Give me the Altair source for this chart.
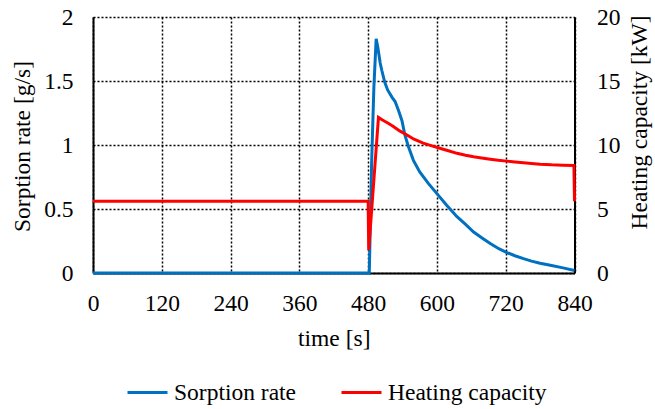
import altair as alt
import pandas as pd

# Sorption rate [g/s] over time [s]
time_sorption = [0, 482, 486, 490, 494, 497, 501, 504, 509, 514, 518, 522, 527, 533,
                 539, 544, 550, 559, 570, 585, 600, 617, 635, 650, 664, 680, 693,
                 708, 722, 736, 751, 765, 780, 800, 820, 840]
sorption_rate = [0.0, 0.0, 0.85, 1.45, 1.83, 1.76, 1.64, 1.58, 1.49, 1.43, 1.40, 1.37,
                 1.34, 1.27, 1.19, 1.08, 0.99, 0.88, 0.79, 0.70, 0.62, 0.53, 0.44,
                 0.38, 0.32, 0.27, 0.23, 0.19, 0.16, 0.135, 0.112, 0.093, 0.076,
                 0.058, 0.040, 0.020]

# Heating capacity [kW] over time [s]
time_heating = [0, 480, 481, 483, 498, 505, 515, 524, 535, 547, 560, 576, 590, 605,
                620, 635, 650, 664, 678, 693, 707, 722, 736, 751, 765, 780, 800,
                820, 839, 840]
heating_capacity = [5.6, 5.6, 1.8, 3.0, 12.15, 11.95, 11.7, 11.45, 11.1, 10.8, 10.45,
                    10.15, 9.95, 9.75, 9.55, 9.35, 9.2, 9.08, 8.98, 8.88, 8.8, 8.74,
                    8.68, 8.62, 8.56, 8.5, 8.45, 8.42, 8.4, 5.6]

series_names = ["Sorption rate", "Heating capacity"]
series_colors = ["#0070C0", "#FF0000"]
time_ticks = [0, 120, 240, 360, 480, 600, 720, 840]
rate_ticks = [0, 0.5, 1, 1.5, 2]
heat_ticks = [0, 5, 10, 15, 20]

FONT = "Liberation Serif"
FS = 23.5

sorption_df = pd.DataFrame({
    "time": time_sorption,
    "value": sorption_rate,
    "series": series_names[0],
    "idx": range(len(time_sorption)),
})
heating_df = pd.DataFrame({
    "time": time_heating,
    "value": heating_capacity,
    "series": series_names[1],
    "idx": range(len(time_heating)),
})

color = alt.Color(
    "series:N",
    scale=alt.Scale(domain=series_names, range=series_colors),
    title=None,
    legend=alt.Legend(
        orient="none",
        legendX=33,
        legendY=354,
        direction="horizontal",
        symbolType="stroke",
        symbolSize=1600,
        symbolStrokeWidth=3,
        labelFont=FONT,
        labelFontSize=FS,
        labelColor="black",
        labelOffset=5,
        columnPadding=38,
        padding=0,
    ),
)

x_enc = alt.X(
    "time:Q",
    scale=alt.Scale(domain=[0, 840], nice=False),
    axis=alt.Axis(
        values=time_ticks,
        grid=True,
        gridColor="black",
        gridDash=[2, 2],
        gridWidth=1.5,
        gridOpacity=1,
        domainColor="black",
        domainWidth=2,
        ticks=False,
        labelFlush=False,
        labelOverlap=False,
        labelPadding=18,
        labelFont=FONT,
        labelFontSize=FS,
        labelColor="black",
        title="time [s]",
        titleFont=FONT,
        titleFontSize=FS,
        titleFontWeight="normal",
        titleColor="black",
        titleBaseline="alphabetic",
        titleY=72,
    ),
)

sorption_line = alt.Chart(sorption_df).mark_line(strokeWidth=3).encode(
    x=x_enc,
    y=alt.Y(
        "value:Q",
        scale=alt.Scale(domain=[0, 2], nice=False),
        axis=alt.Axis(
            orient="left",
            values=rate_ticks,
            format="~g",
            grid=True,
            gridColor="black",
            gridDash=[2, 2],
            gridWidth=1.5,
            gridOpacity=1,
            domainColor="black",
            domainWidth=2,
            ticks=False,
            labelFlush=False,
            labelPadding=20,
            labelFont=FONT,
            labelFontSize=FS,
            labelColor="black",
            title="Sorption rate [g/s]",
            titleFont=FONT,
            titleFontSize=FS,
            titleFontWeight="normal",
            titleColor="black",
            titleAngle=270,
            titleAlign="center",
            titleBaseline="alphabetic",
            titleX=-64,
            titleY=129,
        ),
    ),
    color=color,
    order=alt.Order("idx:Q"),
)

heating_line = alt.Chart(heating_df).mark_line(strokeWidth=3).encode(
    x=x_enc,
    y=alt.Y(
        "value:Q",
        scale=alt.Scale(domain=[0, 20], nice=False),
        axis=alt.Axis(
            orient="right",
            values=heat_ticks,
            grid=False,
            domainColor="black",
            domainWidth=2,
            ticks=False,
            labelFlush=False,
            labelPadding=22,
            labelFont=FONT,
            labelFontSize=FS,
            labelColor="black",
            title="Heating capacity [kW]",
            titleFont=FONT,
            titleFontSize=FS,
            titleFontWeight="normal",
            titleColor="black",
            titleAngle=270,
            titleAlign="center",
            titleBaseline="alphabetic",
            titleX=72,
            titleY=105,
        ),
    ),
    color=color,
    order=alt.Order("idx:Q"),
)

chart = (
    alt.layer(sorption_line, heating_line)
    .resolve_scale(y="independent")
    .properties(
        width=481.5,
        height=256,
        autosize=alt.AutoSizeParams(type="none"),
        padding={"left": 93, "top": 17, "right": 80.5, "bottom": 136},
        background="white",
    )
    .configure_view(strokeWidth=0)
)

chart.save("out.html", embed_options={"renderer": "svg", "actions": False})
